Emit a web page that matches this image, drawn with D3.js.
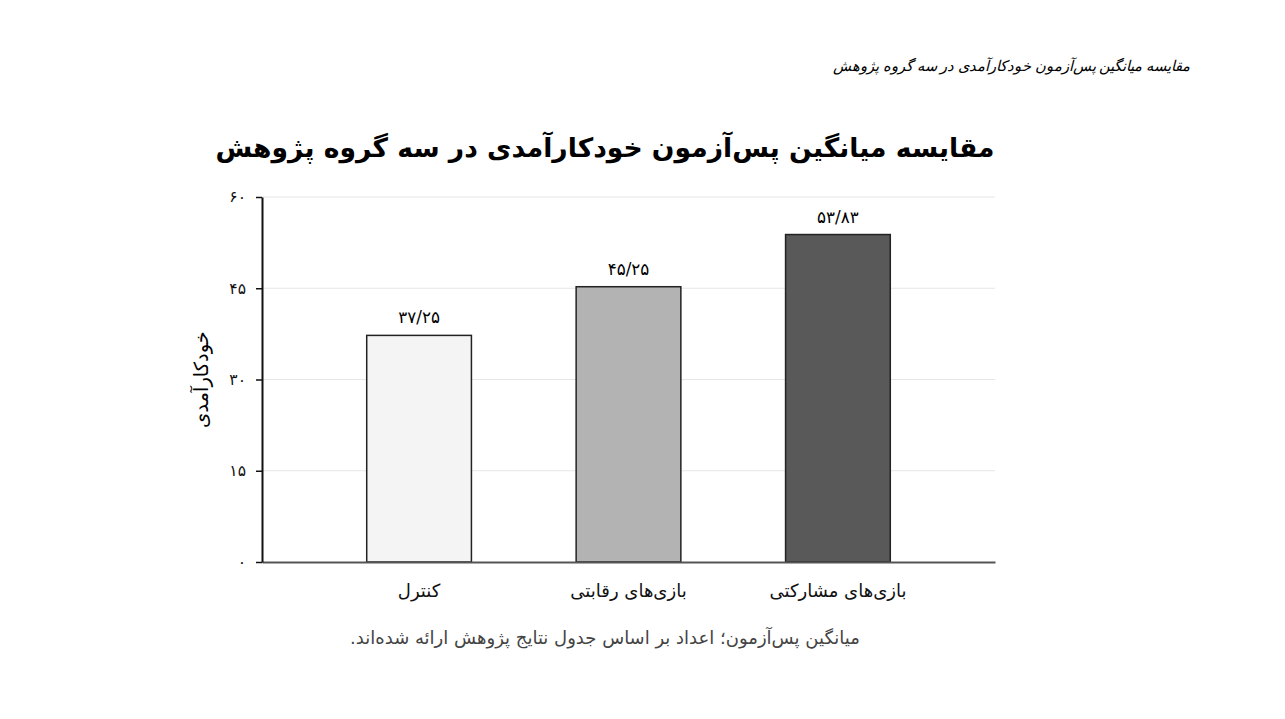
<!DOCTYPE html>
<html lang="fa">
<head>
<meta charset="utf-8">
<script src="https://cdn.jsdelivr.net/npm/d3@7"></script>
<style>
  html, body { margin: 0; padding: 0; background: #fff; }
  svg { display: block; font-family: "DejaVu Sans", sans-serif; direction: ltr; }
</style>
</head>
<body>
<svg id="chart" width="1285" height="719"></svg>
<script>
// data
var groups = ["کنترل", "بازی‌های رقابتی", "بازی‌های مشارکتی"];
var means = [37.25, 45.25, 53.83];
var fills = ["#f4f4f4", "#b3b3b3", "#595959"];
var yTicks = [0, 15, 30, 45, 60];

var pageCaption = "مقایسه میانگین پس‌آزمون خودکارآمدی در سه گروه پژوهش";
var chartTitle = "مقایسه میانگین پس‌آزمون خودکارآمدی در سه گروه پژوهش";
var yLabel = "خودکارآمدی";
var note = "میانگین پس‌آزمون؛ اعداد بر اساس جدول نتایج پژوهش ارائه شده‌اند.";

// persian digits, slash as decimal mark
function fa(v) {
    var s = String(v).replace(".", "/");
    return s.replace(/[0-9]/g, function (d) { return "۰۱۲۳۴۵۶۷۸۹"[+d]; });
}

var margin = {left: 262, right: 290, top: 197, bottom: 157};
var W = 1285, H = 719;

var svg = d3.select("#chart");

var x = d3.scaleBand()
    .domain(groups)
    .range([margin.left, W - margin.right])
    .padding(0.5);

var y = d3.scaleLinear()
    .domain([0, 60])
    .range([H - margin.bottom, margin.top]);

// top right caption
svg.append("text")
    .attr("x", 1190)
    .attr("y", 71)
    .attr("text-anchor", "end")
    .style("font-family", "serif")
    .style("font-style", "italic")
    .style("font-size", "14.7px")
    .text(pageCaption);

// title
svg.append("text")
    .attr("x", 605)
    .attr("y", 157)
    .attr("text-anchor", "middle")
    .style("font-weight", "bold")
    .style("font-size", "26.6px")
    .text(chartTitle);

// grid
svg.append("g")
    .selectAll("line")
    .data(yTicks.slice(1))
    .enter().append("line")
    .attr("x1", margin.left)
    .attr("x2", W - margin.right)
    .attr("y1", function (d) { return y(d); })
    .attr("y2", function (d) { return y(d); })
    .style("stroke", "#e6e6e6")
    .style("stroke-width", 1);

// bars
svg.append("g")
    .selectAll("rect")
    .data(means)
    .enter().append("rect")
    .attr("x", function (d, i) { return x(groups[i]); })
    .attr("y", function (d) { return y(d); })
    .attr("width", x.bandwidth())
    .attr("height", function (d) { return y(0) - y(d); })
    .attr("fill", function (d, i) { return fills[i]; })
    .style("stroke", "#222")
    .style("stroke-width", 1.5);

// value labels
svg.append("g")
    .selectAll("text")
    .data(means)
    .enter().append("text")
    .attr("x", function (d, i) { return x(groups[i]) + x.bandwidth() / 2; })
    .attr("y", function (d) { return y(d) - 12; })
    .attr("text-anchor", "middle")
    .style("font-size", "16.8px")
    .text(function (d) { return fa(d); });

// x axis
var xAxis = svg.append("g")
    .attr("transform", "translate(0," + y(0) + ")")
    .call(d3.axisBottom(x).tickSize(0).tickPadding(22));
xAxis.select(".domain").style("stroke", "#555").style("stroke-width", 2);
xAxis.selectAll("text")
    .style("font-family", "DejaVu Sans, sans-serif")
    .style("font-size", "18px")
    .style("fill", "#111");

// y axis
var yAxis = svg.append("g")
    .attr("transform", "translate(" + margin.left + ",0)")
    .call(d3.axisLeft(y).tickValues(yTicks).tickSize(6).tickSizeOuter(0).tickPadding(10).tickFormat(fa));
yAxis.select(".domain").style("stroke", "#111").style("stroke-width", 2);
yAxis.selectAll(".tick line").style("stroke", "#111").style("stroke-width", 1.5);
yAxis.selectAll("text")
    .style("font-family", "DejaVu Sans, sans-serif")
    .style("font-size", "15.5px")
    .style("fill", "#111");

// y label
svg.append("text")
    .attr("transform", "translate(208," + ((y(0) + y(60)) / 2) + ") rotate(-90)")
    .attr("text-anchor", "middle")
    .style("font-size", "19.5px")
    .text(yLabel);

// note (rtl so the full stop sits on the left)
svg.append("text")
    .attr("x", 605)
    .attr("y", 644)
    .attr("text-anchor", "middle")
    .attr("direction", "rtl")
    .style("direction", "rtl")
    .style("font-size", "18px")
    .style("fill", "#444")
    .text(note);
</script>
</body>
</html>
